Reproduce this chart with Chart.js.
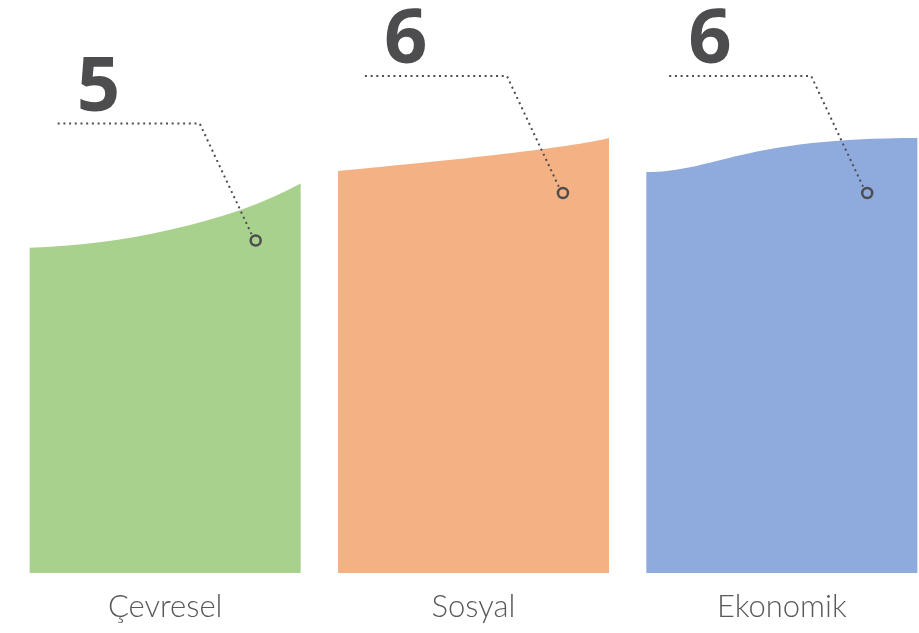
<!DOCTYPE html>
<html>
<head>
<meta charset="utf-8">
<script src="https://cdn.jsdelivr.net/npm/chart.js"></script>
<style>
  html, body { margin: 0; padding: 0; background: #fff; overflow: hidden; }
  #wrap { position: absolute; left: 11px; top: 0; }
</style>
</head>
<body>
<div id="wrap"><canvas id="chartContainer" width="925" height="633"></canvas></div>
<script>
// data
var categories = ['Çevresel', 'Sosyal', 'Ekonomik'];
var scores = [5, 6, 6];
var barColors = ['#A9D18E', '#F4B183', '#8FAADC'];

// wavy top of each bar: [leftOff, cp1x, cp1Off, cp2x, cp2Off, rightOff] (offsets in value units, x as fraction of bar width)
var capCurves = [
  [-0.15, 0.33, -0.105, 0.74, 0.38, 1.2],
  [0.463, 0.30, 0.632, 0.82, 0.905, 1.158],
  [0.442, 0.255, 0.442, 0.347, 1.158, 1.158]
];
// where the marker circle sits across the bar (fraction of width)
var markerPos = [0.834, 0.83, 0.815];
var ink = '#4D4D4F';

var wavyBars = {
  id: 'wavyBars',
  afterDatasetsDraw: function(chart) {
    var ctx = chart.ctx;
    var y = chart.scales.y;
    var meta = chart.getDatasetMeta(0);
    meta.data.forEach(function(bar, i) {
      var v = scores[i], c = capCurves[i];
      var w = bar.width, left = bar.x - w / 2, right = bar.x + w / 2;
      ctx.save();
      ctx.beginPath();
      ctx.moveTo(left, bar.base);
      ctx.lineTo(left, y.getPixelForValue(v + c[0]));
      ctx.bezierCurveTo(left + w * c[1], y.getPixelForValue(v + c[2]),
                        left + w * c[3], y.getPixelForValue(v + c[4]),
                        right, y.getPixelForValue(v + c[5]));
      ctx.lineTo(right, bar.base);
      ctx.closePath();
      ctx.fillStyle = barColors[i];
      ctx.fill();

      // callout
      var mx = left + w * markerPos[i], my = bar.y;
      ctx.strokeStyle = ink;
      ctx.lineWidth = 2;
      ctx.setLineDash([2, 3.7]);
      ctx.beginPath();
      ctx.moveTo(mx - 198, my - 117);
      ctx.lineTo(mx - 56, my - 117);
      ctx.lineTo(mx - 4, my - 6);
      ctx.stroke();
      ctx.setLineDash([]);
      ctx.lineWidth = 2.5;
      ctx.beginPath();
      ctx.arc(mx, my, 5, 0, Math.PI * 2);
      ctx.stroke();

      ctx.fillStyle = ink;
      ctx.font = 'bold 76px "Open Sans"';
      ctx.textBaseline = 'alphabetic';
      ctx.fillText(String(v), mx - 179, my - 130);
      ctx.restore();
    });
  }
};

new Chart(document.getElementById('chartContainer').getContext('2d'), {
  type: 'bar',
  data: {
    labels: categories,
    datasets: [{
      data: scores,
      base: -2,
      backgroundColor: 'rgba(0,0,0,0)',
      barPercentage: 0.879,
      categoryPercentage: 1
    }]
  },
  options: {
    responsive: false,
    animation: false,
    events: [],
    layout: { padding: { top: 3, bottom: 0, left: 0, right: 0 } },
    plugins: { legend: { display: false }, tooltip: { enabled: false } },
    scales: {
      x: {
        grid: { display: false, drawTicks: false },
        border: { display: false },
        ticks: { color: '#595959', padding: 15, font: { family: 'Lato', size: 31, weight: 300 } },
        afterFit: function(scale) { scale.height = 60; }
      },
      y: { display: false, min: -2, max: 10 }
    }
  },
  plugins: [wavyBars]
});
</script>
</body>
</html>
